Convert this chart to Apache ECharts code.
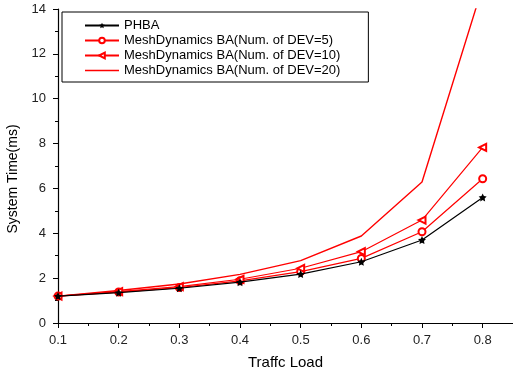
<!DOCTYPE html>
<html>
<head>
<meta charset="utf-8">
<script src="https://cdn.jsdelivr.net/npm/echarts@6/dist/echarts.min.js"></script>
<style>
  html, body { margin: 0; padding: 0; background: #fff; }
  #chart { width: 513px; height: 374px; }
</style>
</head>
<body>
<div id="chart"></div>
<script>
// traffic load on the x axis
const loads = [0.1, 0.2, 0.3, 0.4, 0.5, 0.6, 0.7, 0.8]
// system time (ms)
const phba = [1.2, 1.35, 1.55, 1.82, 2.18, 2.73, 3.7, 5.6]
const dev5 = [1.2, 1.38, 1.58, 1.88, 2.29, 2.88, 4.07, 6.43]
const dev10 = [1.2, 1.4, 1.62, 1.95, 2.44, 3.18, 4.59, 7.83]
const dev20 = [1.2, 1.45, 1.74, 2.17, 2.78, 3.88, 6.29, 15.0]
const names = [
  'PHBA',
  'MeshDynamics BA(Num. of DEV=5)',
  'MeshDynamics BA(Num. of DEV=10)',
  'MeshDynamics BA(Num. of DEV=20)'
]

const star = 'path://M0,-10L2.94,-4.05L9.51,-3.09L4.76,1.55L5.88,8.09L0,5L-5.88,8.09L-4.76,1.55L-9.51,-3.09L-2.94,-4.05Z'
// plain line icon for the series without markers
const lineIcon = 'path://M0,0L34,0L34,1.3L0,1.3Z'
const font = 'Liberation Sans, Arial, sans-serif'

function pairs (ys) {
  return loads.map((x, i) => [x, ys[i]])
}

const chart = echarts.init(document.getElementById('chart'))
const option = {
  animation: false,
  backgroundColor: '#fff',
  textStyle: { fontFamily: font },
  grid: { left: 58, right: 0, top: 9, bottom: 51, outerBoundsMode: 'none' },
  legend: {
    orient: 'vertical',
    left: 62,
    top: 12,
    padding: [7, 28, 5, 22],
    borderColor: '#000',
    borderWidth: 1,
    itemWidth: 34,
    itemHeight: 7,
    itemGap: 2,
    textStyle: { fontSize: 13, color: '#000', fontFamily: font },
    data: [
      { name: names[0] },
      { name: names[1] },
      { name: names[2] },
      { name: names[3], icon: lineIcon }
    ]
  },
  xAxis: {
    type: 'value',
    min: 0.1,
    max: 0.85,
    interval: 0.1,
    name: 'Traffc Load',
    nameLocation: 'middle',
    nameGap: 32,
    nameTextStyle: { fontSize: 15, color: '#000' },
    axisLine: { lineStyle: { color: '#000', width: 1.2 } },
    axisTick: { length: 5, lineStyle: { color: '#000' } },
    minorTick: { show: true, splitNumber: 2, length: 3, lineStyle: { color: '#000' } },
    axisLabel: { fontSize: 13, color: '#222', margin: 11, showMaxLabel: false },
    splitLine: { show: false }
  },
  yAxis: {
    type: 'value',
    min: 0,
    max: 14,
    interval: 2,
    name: 'System Time(ms)',
    nameLocation: 'middle',
    nameGap: 36,
    nameTextStyle: { fontSize: 14, color: '#000', padding: [0, 26, 0, 0] },
    axisLine: { show: true, lineStyle: { color: '#000', width: 1.2 } },
    axisTick: { show: true, length: 5, lineStyle: { color: '#000' } },
    minorTick: { show: true, splitNumber: 2, length: 3, lineStyle: { color: '#000' } },
    axisLabel: { fontSize: 13, color: '#222', margin: 12 },
    splitLine: { show: false }
  },
  series: [
    {
      name: names[0],
      type: 'line',
      data: pairs(phba),
      symbol: star,
      symbolSize: 8,
      color: '#000',
      lineStyle: { color: '#000', width: 1.2 },
      itemStyle: { color: '#000' },
      z: 4
    },
    {
      name: names[1],
      type: 'line',
      data: pairs(dev5),
      symbol: 'emptyCircle',
      symbolSize: 7,
      color: '#ff0000',
      lineStyle: { color: '#ff0000', width: 1.2 },
      itemStyle: { color: '#ff0000', borderColor: '#ff0000', borderWidth: 1 },
      z: 3
    },
    {
      name: names[2],
      type: 'line',
      data: pairs(dev10),
      symbol: 'emptyTriangle',
      symbolSize: 7,
      symbolRotate: 90,
      color: '#ff0000',
      lineStyle: { color: '#ff0000', width: 1.2 },
      itemStyle: { color: '#ff0000', borderColor: '#ff0000', borderWidth: 1 },
      z: 3
    },
    {
      name: names[3],
      type: 'line',
      data: pairs(dev20),
      symbol: 'none',
      clip: true,
      color: '#ff0000',
      lineStyle: { color: '#ff0000', width: 1.4 },
      z: 2
    }
  ]
}
chart.setOption(option)
</script>
</body>
</html>
